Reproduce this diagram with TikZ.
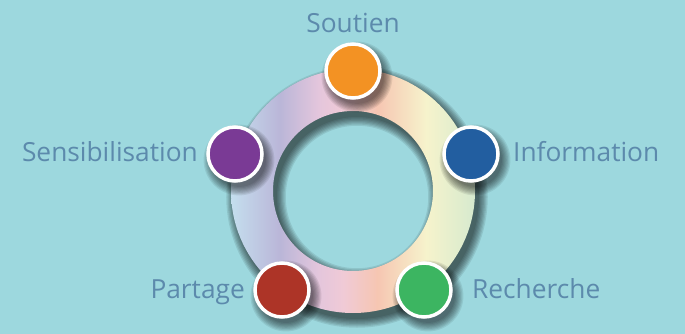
\documentclass[tikz,border=0pt]{standalone}
\usepackage{fontspec}
\setmainfont{Open Sans}
\definecolor{bg}{RGB}{157,216,222}
\definecolor{txt}{RGB}{92,138,172}
\definecolor{c1}{RGB}{196,222,238}
\definecolor{c2}{RGB}{186,182,216}
\definecolor{c3}{RGB}{228,198,220}
\definecolor{c4}{RGB}{240,202,214}
\definecolor{c5}{RGB}{246,198,178}
\definecolor{c6}{RGB}{246,243,204}
\definecolor{c7}{RGB}{214,234,206}
\definecolor{corange}{RGB}{243,146,35}
\definecolor{cblue}{RGB}{34,94,160}
\definecolor{cgreen}{RGB}{60,181,97}
\definecolor{cred}{RGB}{173,52,39}
\definecolor{cpurple}{RGB}{122,58,149}
\pgfdeclarehorizontalshading{ringshade}{100bp}{color(0bp)=(c1); color(25bp)=(c1); color(35bp)=(c2); color(43bp)=(c3); color(48bp)=(c4); color(55bp)=(c5); color(65bp)=(c6); color(75bp)=(c7); color(100bp)=(c7)}
\tikzset{
  dot/.style={circle, draw=white, line width=3.5pt, minimum size=54pt, inner sep=0pt},
  lbl/.style={text=txt, font=\fontsize{26.3}{31}\selectfont, inner sep=0pt},
}
\begin{document}
\begin{tikzpicture}[x=1pt,y=-1pt]
\fill[bg] (0,0) rectangle (685,334);
\useasboundingbox (0,0) rectangle (685,334);
\coordinate (c) at (353,191);
\coordinate (cs) at (357,197);
% ring shadow
\foreach \k in {0,...,7}{
  \pgfmathsetmacro\lw{42+2.5*\k}
  \draw[line width=\lw pt, black, opacity=0.09] (cs) circle (101);
}
% ring
\shade[shading=ringshade, even odd rule] (c) circle (122) (c) circle (80);
% dot shadows
\foreach \p in {(357,77),(475,160),(428,296),(286,296),(239,160)}{
  \foreach \k in {0,...,7}{
    \pgfmathsetmacro\rr{27+1.2*\k}
    \fill[black, opacity=0.08] \p circle (\rr);
  }
}
\node[dot, fill=corange] (soutien) at (353,71) {};
\node[dot, fill=cblue] (information) at (471,154) {};
\node[dot, fill=cgreen] (recherche) at (424,290) {};
\node[dot, fill=cred] (partage) at (282,290) {};
\node[dot, fill=cpurple] (sensibilisation) at (235,154) {};
\node[lbl, anchor=base] (tsoutien) at (353,33) {Soutien};
\node[lbl, anchor=base east] (tsens) at (198,161) {Sensibilisation};
\node[lbl, anchor=base west] (tinfo) at (513,161) {Information};
\node[lbl, anchor=base east] (tpart) at (245,298) {Partage};
\node[lbl, anchor=base west] (trech) at (472,298) {Recherche};
\end{tikzpicture}
\end{document}
